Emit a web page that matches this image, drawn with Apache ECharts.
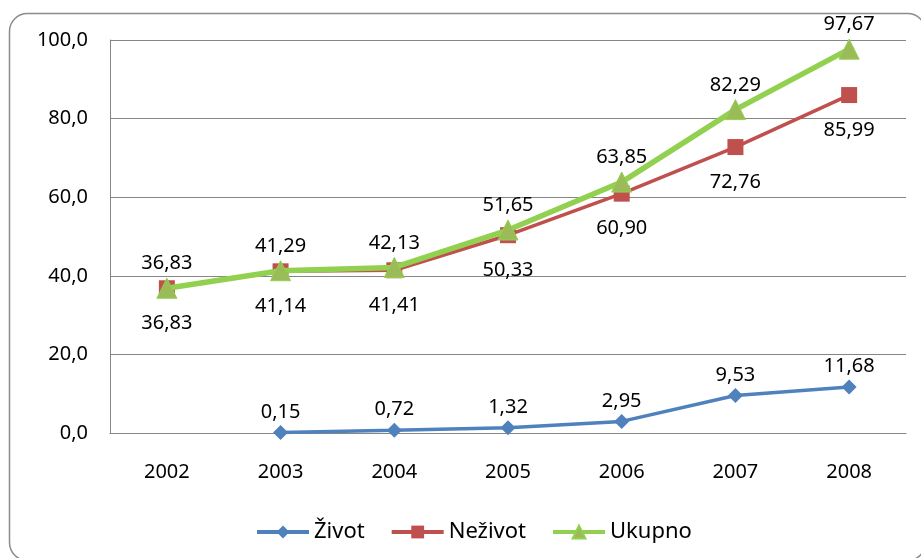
<!DOCTYPE html>
<html>
<head>
<meta charset="utf-8">
<script src="https://cdn.jsdelivr.net/npm/echarts@6/dist/echarts.min.js"></script>
<style>
html,body{margin:0;padding:0;background:#fff;}
#chart{width:921px;height:558px;}
</style>
</head>
<body>
<div id="chart"></div>
<script>
const years = ['2002','2003','2004','2005','2006','2007','2008'];
const zivot = [null, 0.15, 0.72, 1.32, 2.95, 9.53, 11.68];
const nezivot = [36.83, 41.14, 41.41, 50.33, 60.90, 72.76, 85.99];
const ukupno = [36.83, 41.29, 42.13, 51.65, 63.85, 82.29, 97.67];
const seriesNames = ['Život', 'Neživot', 'Ukupno'];

const FONT = 'Noto Sans';
const FS = 20;
const fmt2 = p => p.value == null ? '' : Number(p.value).toFixed(2).replace('.', ',');
const chart = echarts.init(document.getElementById('chart'));
chart.setOption({
  backgroundColor: '#fff',
  animation: false,
  textStyle: { fontFamily: FONT },
  graphic: [{
    type: 'rect', silent: true, z: -1,
    shape: { x: 9.5, y: 13.5, width: 916, height: 547, r: 18 },
    style: { fill: 'none', stroke: '#8c8c8c', lineWidth: 1.5 }
  }],
  grid: { left: 110, right: 15, top: 40, bottom: 125 },
  legend: {
    bottom: 10, left: 250,
    itemWidth: 52, itemHeight: 16, itemGap: 25,
    textStyle: { fontFamily: FONT, fontSize: 22, color: '#000' },
    data: [
      { name: seriesNames[0], lineStyle: { width: 4 } },
      { name: seriesNames[1], lineStyle: { width: 4 } },
      { name: seriesNames[2], lineStyle: { width: 4 } }
    ]
  },
  xAxis: {
    type: 'category', data: years, boundaryGap: true,
    axisLine: { lineStyle: { color: '#868686' } },
    axisTick: { show: false },
    axisLabel: { fontFamily: FONT, fontSize: FS, color: '#000', margin: 29 }
  },
  yAxis: {
    type: 'value', min: 0, max: 100, interval: 20,
    axisLine: { show: true, lineStyle: { color: '#868686' } },
    axisTick: { show: false },
    splitLine: { lineStyle: { color: '#868686', width: 1 } },
    axisLabel: { fontFamily: FONT, fontSize: FS, color: '#000', margin: 22,
      formatter: v => v.toFixed(1).replace('.', ',') }
  },
  series: [
    {
      name: 'Život', type: 'line', data: zivot,
      symbol: 'diamond', symbolSize: 15,
      lineStyle: { color: '#4F81BD', width: 3.5 },
      itemStyle: { color: '#4F81BD' },
      label: { show: true, position: 'top', distance: 3, formatter: fmt2,
        fontFamily: FONT, fontSize: FS, color: '#000' },
      z: 3
    },
    {
      name: 'Neživot', type: 'line', data: nezivot,
      symbol: 'rect', symbolSize: 16,
      lineStyle: { color: '#C0504D', width: 3.5 },
      itemStyle: { color: '#C0504D' },
      label: { show: true, position: 'bottom', distance: 17, formatter: fmt2,
        fontFamily: FONT, fontSize: FS, color: '#000' },
      z: 3
    },
    {
      name: 'Ukupno', type: 'line', data: ukupno,
      symbol: 'triangle', symbolSize: 20,
      lineStyle: { color: '#92D050', width: 5.5 },
      itemStyle: { color: '#9BBB59', borderColor: '#92D050', borderWidth: 1 },
      label: { show: true, position: 'top', distance: 4, formatter: fmt2,
        fontFamily: FONT, fontSize: FS, color: '#000' },
      z: 4
    }
  ]
});
</script>
</body>
</html>
